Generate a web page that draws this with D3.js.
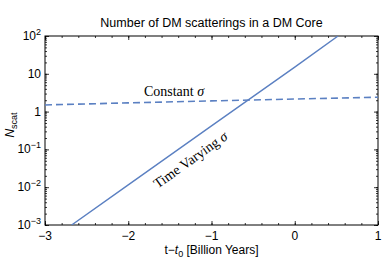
<!DOCTYPE html>
<html>
<head>
<meta charset="utf-8">
<script src="https://cdn.jsdelivr.net/npm/d3@7"></script>
<style>
  body { margin: 0; background: #fff; }
  text { font-family: "Liberation Sans", Arial, sans-serif; }
</style>
</head>
<body>
<div id="chart"></div>
<script>
// data
var timeVaryingT = [-2.68, -2.0, -1.0, 0.0, 0.52];
var timeVaryingN = [0.001, 0.0115, 0.42, 15, 100];
var constantT = [-3, -2, -1, 0, 1];
var constantN = [1.5, 1.7, 1.92, 2.15, 2.4];
var xTicks = [-3, -2, -1, 0, 1];
var yTicks = [1e-3, 1e-2, 1e-1, 1, 10, 100];

var W = 383, H = 259;
var margin = {top: 36, right: 5, bottom: 34, left: 45},
    width = W - margin.left - margin.right,
    height = H - margin.top - margin.bottom;
var lineColor = "#5b80c2";

var svg = d3.select("#chart").append("svg")
    .attr("width", W).attr("height", H);
var g = svg.append("g")
    .attr("transform", `translate(${margin.left},${margin.top})`);

var x = d3.scaleLinear().domain([-3, 1]).range([0, width]);
var y = d3.scaleLog().domain([1e-3, 1e2]).range([height, 0]);

g.append("clipPath").attr("id", "clip")
  .append("rect").attr("width", width).attr("height", height);

// minor ticks
var xMinor = d3.range(-3, 1.0001, 0.2);
var yMinor = [];
for (var e = -3; e < 2; e++) for (var k = 1; k < 10; k++) yMinor.push(k * Math.pow(10, e));

function supLabel(d) {
  if (d === 1) return "1";
  if (d === 10) return "10";
  return null;
}

// axes: inward ticks on all sides
function drawAxis(axis, tr) {
  var a = g.append("g").attr("transform", tr).call(axis);
  a.select(".domain").remove();
  a.selectAll("line").attr("stroke", "#000").attr("stroke-width", 0.8);
  return a;
}
drawAxis(d3.axisBottom(x).tickValues(xMinor).tickSize(-2).tickFormat(""), `translate(0,${height})`);
drawAxis(d3.axisTop(x).tickValues(xMinor).tickSize(-2).tickFormat(""), "translate(0,0)");
drawAxis(d3.axisBottom(x).tickValues(xTicks).tickSize(-4).tickFormat(""), `translate(0,${height})`);
drawAxis(d3.axisTop(x).tickValues(xTicks).tickSize(-4).tickFormat(""), "translate(0,0)");
drawAxis(d3.axisLeft(y).tickValues(yMinor).tickSize(-2).tickFormat(""), "translate(0,0)");
drawAxis(d3.axisRight(y).tickValues(yMinor).tickSize(-2).tickFormat(""), `translate(${width},0)`);
drawAxis(d3.axisLeft(y).tickValues(yTicks).tickSize(-4).tickFormat(""), "translate(0,0)");
drawAxis(d3.axisRight(y).tickValues(yTicks).tickSize(-4).tickFormat(""), `translate(${width},0)`);

// x tick labels
g.selectAll(".xl").data(xTicks).enter().append("text")
  .attr("x", function(d) { return x(d); })
  .attr("y", height + 15)
  .attr("text-anchor", "middle")
  .style("font-size", "12px")
  .text(function(d) { return d < 0 ? "\u2212" + Math.abs(d) : d; });

// y tick labels
g.selectAll(".yl").data(yTicks).enter().append("text")
  .attr("x", -4)
  .attr("y", function(d) { return y(d) + 4; })
  .attr("text-anchor", "end")
  .style("font-size", "12px")
  .each(function(d) {
    var t = d3.select(this);
    var s = supLabel(d);
    if (s) { t.text(s); return; }
    var ex = Math.round(Math.log10(d));
    t.append("tspan").text("10");
    t.append("tspan").attr("dy", -5).style("font-size", "9px")
      .text(ex < 0 ? "\u2212" + Math.abs(ex) : ex);
  });

// frame
g.append("rect").attr("width", width).attr("height", height)
  .attr("fill", "none").attr("stroke", "#000").attr("stroke-width", 1);

// lines
var line = d3.line()
    .x(function(d) { return x(d[0]); })
    .y(function(d) { return y(d[1]); });

g.append("path")
  .datum(d3.zip(constantT, constantN))
  .attr("clip-path", "url(#clip)")
  .attr("fill", "none").attr("stroke", lineColor).attr("stroke-width", 1.6)
  .attr("stroke-dasharray", "7,4")
  .attr("d", line);

g.append("path")
  .datum(d3.zip(timeVaryingT, timeVaryingN))
  .attr("clip-path", "url(#clip)")
  .attr("fill", "none").attr("stroke", lineColor).attr("stroke-width", 1.4)
  .attr("d", line);

// curve labels
var lab1 = g.append("text")
  .attr("x", x(-1.45)).attr("y", y(2.6))
  .attr("text-anchor", "middle")
  .style("font-family", "'Liberation Serif', 'DejaVu Serif', serif")
  .style("font-size", "14px");
lab1.append("tspan").text("Constant ");
lab1.append("tspan").style("font-style", "italic").text("\u03c3");

var ang = Math.atan2(y(timeVaryingN[0]) - y(timeVaryingN[4]), x(timeVaryingT[4]) - x(timeVaryingT[0])) * 180 / Math.PI;
var lx = x(-1.22), ly = y(0.042);
var lab2 = g.append("text")
  .attr("transform", `translate(${lx},${ly}) rotate(${-ang})`)
  .attr("text-anchor", "middle")
  .style("font-family", "'Liberation Serif', 'DejaVu Serif', serif")
  .style("font-size", "14px");
lab2.append("tspan").text("Time Varying ");
lab2.append("tspan").style("font-style", "italic").text("\u03c3");

// title
svg.append("text")
  .attr("x", margin.left + width / 2).attr("y", 27)
  .attr("text-anchor", "middle")
  .style("font-size", "12.5px")
  .text("Number of DM scatterings in a DM Core");

// x label
var xl = svg.append("text")
  .attr("x", margin.left + width / 2).attr("y", 254)
  .attr("text-anchor", "middle")
  .style("font-size", "12px");
xl.append("tspan").text("t\u2212");
xl.append("tspan").style("font-style", "italic").text("t");
xl.append("tspan").attr("dy", 3).style("font-size", "9px").text("0");
xl.append("tspan").attr("dy", -3).text(" [Billion Years]");

// y label
var yl = svg.append("text")
  .attr("transform", "translate(14,125) rotate(-90)")
  .attr("text-anchor", "middle")
  .style("font-size", "12px");
yl.append("tspan").style("font-style", "italic").text("N");
yl.append("tspan").attr("dy", 3).style("font-size", "9px").text("scat");
</script>
</body>
</html>
